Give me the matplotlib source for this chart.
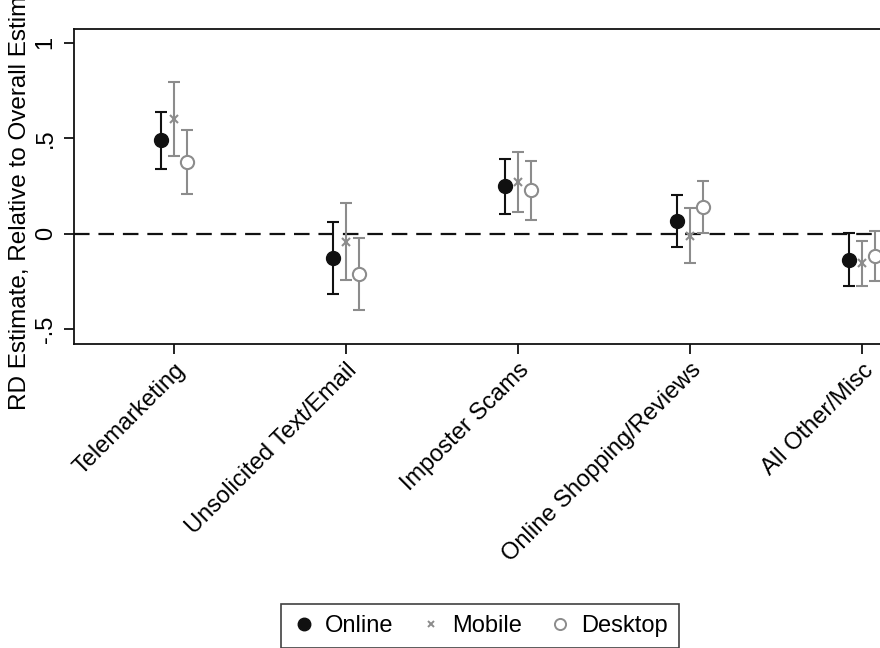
import matplotlib.pyplot as plt

plt.rcParams['font.family'] = ['Liberation Sans', 'DejaVu Sans']

# Categories and estimates
categories = ['Telemarketing', 'Unsolicited Text/Email', 'Imposter Scams',
              'Online Shopping/Reviews', 'All Other/Misc']

online_est = [0.49, -0.126, 0.252, 0.065, -0.136]
online_lo = [0.341, -0.315, 0.103, -0.072, -0.276]
online_hi = [0.636, 0.063, 0.393, 0.201, 0.004]

mobile_est = [0.60, -0.044, 0.271, -0.01, -0.156]
mobile_lo = [0.409, -0.241, 0.114, -0.152, -0.276]
mobile_hi = [0.797, 0.161, 0.43, 0.133, -0.037]

desktop_est = [0.376, -0.212, 0.227, 0.14, -0.115]
desktop_lo = [0.206, -0.40, 0.073, 0.005, -0.247]
desktop_hi = [0.544, -0.025, 0.379, 0.274, 0.016]

black = '#111111'
gray = '#8c8c8c'

fig = plt.figure(figsize=(8.8, 6.48), dpi=100)
# axes box runs past the right edge, as in the cropped original
ax = fig.add_axes([74 / 880, 1 - 344 / 648, 887 / 880, 315 / 648])

x = list(range(1, len(categories) + 1))
off = 0.0756

def draw(xs, est, lo, hi, barcolor, **mk):
    yerr = [[e - l for e, l in zip(est, lo)], [h - e for e, h in zip(est, hi)]]
    ax.errorbar(xs, est, yerr=yerr, fmt='none', ecolor=barcolor, elinewidth=1.5,
                capsize=4.6, capthick=1.5, zorder=2)
    ax.plot(xs, est, linestyle='none', zorder=3, **mk)

draw([v - off for v in x], online_est, online_lo, online_hi, black,
     marker='o', markersize=10, color=black)
draw(x, mobile_est, mobile_lo, mobile_hi, gray,
     marker='x', markersize=5.5, markeredgewidth=1.5, color=gray)
draw([v + off for v in x], desktop_est, desktop_lo, desktop_hi, gray,
     marker='o', markersize=9.5, markerfacecolor='white', markeredgecolor=gray,
     markeredgewidth=1.5)

ax.axhline(0, color=black, linestyle=(0, (7, 4)), linewidth=1.6, zorder=1)

ax.set_xlim(1 - 100 / 172, 1 + 887 / 172 - 100 / 172)
ax.set_ylim(-0.579, 1.073)
ax.set_yticks([-0.5, 0, 0.5, 1])
ax.set_yticklabels(['-.5', '0', '.5', '1'], rotation=90, va='center', fontsize=17)
ax.set_xticks(x)
ax.set_xticklabels(categories, rotation=45, ha='right', rotation_mode='anchor',
                   fontsize=17)
ax.tick_params(axis='both', direction='out', length=7.5, width=1.3, color=black)
ax.tick_params(axis='y', pad=5)
for s in ax.spines.values():
    s.set_linewidth(1.3)
    s.set_color(black)

# the long axis title is clipped at the top edge in the original as well
fig.text(20 / 880, 1 - 186 / 648, 'RD Estimate, Relative to Overall Estimate',
         rotation=90, ha='center', va='center', fontsize=17.5)

handles = [
    plt.Line2D([], [], linestyle='none', marker='o', markersize=9, color=black),
    plt.Line2D([], [], linestyle='none', marker='x', markersize=5,
               markeredgewidth=1.4, color=gray),
    plt.Line2D([], [], linestyle='none', marker='o', markersize=8,
               markerfacecolor='white', markeredgecolor=gray, markeredgewidth=1.4),
]
leg = fig.legend(handles, ['Online', 'Mobile', 'Desktop'], ncol=3,
                 loc='center', bbox_to_anchor=(480 / 880, 1 - 626 / 648),
                 fontsize=17, frameon=True, fancybox=False, handletextpad=0.4,
                 columnspacing=1.1, handlelength=1.0, borderpad=0.45)
leg.get_frame().set_edgecolor(black)
leg.get_frame().set_linewidth(1.2)

fig.savefig('out.png', dpi=100)
